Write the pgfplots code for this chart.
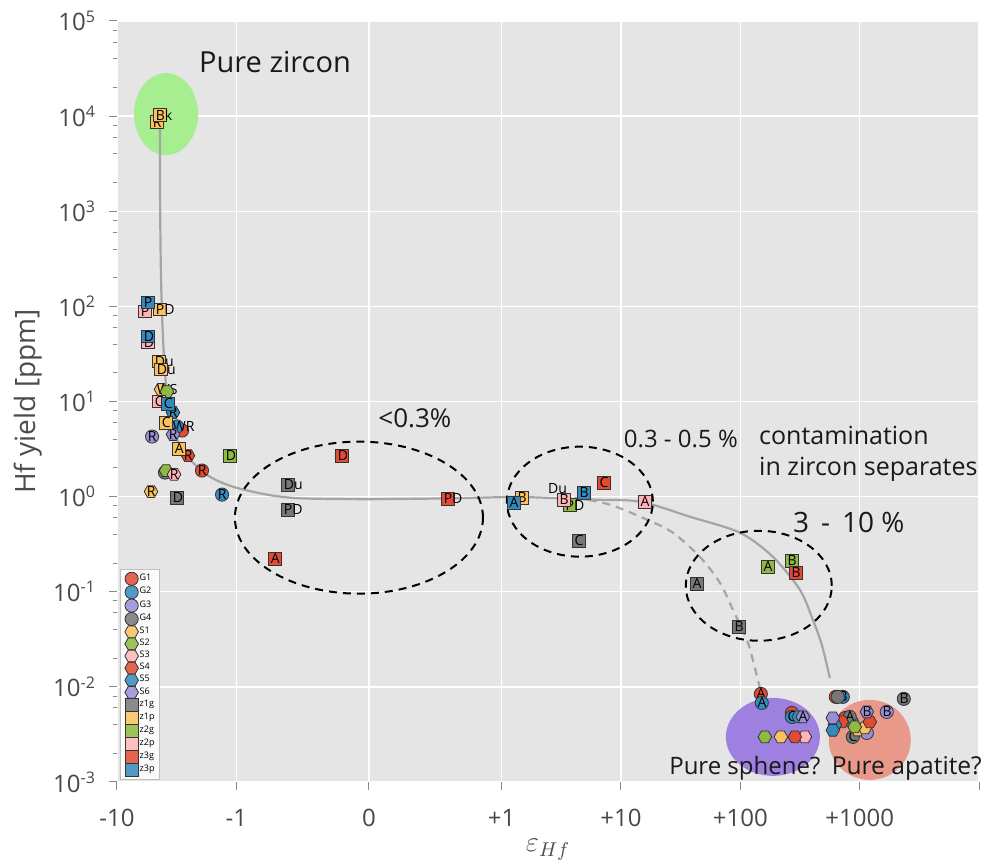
\documentclass[border=0pt]{standalone}
\usepackage{fontspec}
\setmainfont{Open Sans}
\usepackage{pgfplots}
\pgfplotsset{compat=1.18}
\usetikzlibrary{calc}

\definecolor{cR}{HTML}{E24A33}
\definecolor{cB}{HTML}{348ABD}
\definecolor{cP}{HTML}{988ED5}
\definecolor{cG}{HTML}{777777}
\definecolor{cY}{HTML}{FBC15E}
\definecolor{cGr}{HTML}{8EBA42}
\definecolor{cPk}{HTML}{FFB5B8}
\definecolor{bg}{HTML}{E5E5E5}
\definecolor{ellG}{HTML}{A6EE90}
\definecolor{ellP}{HTML}{9D80E0}
\definecolor{ellS}{HTML}{E8998A}
\definecolor{lineg}{HTML}{A5A5A5}
\definecolor{tickc}{HTML}{555555}

\newcommand\labfont{\fontsize{7}{8}\selectfont}
\newcommand\fs[1]{\fontsize{#1}{#1}\selectfont}

\pgfdeclareplotmark{hex}{%
  \pgfpathmoveto{\pgfqpointpolar{0}{\pgfplotmarksize}}%
  \pgfpathlineto{\pgfqpointpolar{60}{\pgfplotmarksize}}%
  \pgfpathlineto{\pgfqpointpolar{120}{\pgfplotmarksize}}%
  \pgfpathlineto{\pgfqpointpolar{180}{\pgfplotmarksize}}%
  \pgfpathlineto{\pgfqpointpolar{240}{\pgfplotmarksize}}%
  \pgfpathlineto{\pgfqpointpolar{300}{\pgfplotmarksize}}%
  \pgfpathclose
  \pgfusepathqfillstroke
}

\pgfplotsset{
  lab/.style={nodes near coords, point meta=explicit symbolic,
    nodes near coords style={anchor=west, xshift=-2.3pt, inner sep=0pt, font=\labfont, text=black}},
  G/.style={lab, only marks, mark=*, mark size=3.3pt, mark options={fill=#1, draw=black!80, line width=0.4pt}},
  S/.style={lab, only marks, mark=hex, mark size=3.4pt, mark options={fill=#1, draw=black!80, line width=0.4pt}},
  Z/.style={lab, only marks, mark=square*, mark size=3.2pt, mark options={fill=#1, draw=black!80, line width=0.4pt}},
}

\begin{document}
\begin{tikzpicture}
\begin{axis}[
  scale only axis, width=431pt, height=380.5pt,
  xmin=-2.111, xmax=5.111, ymode=log, ymin=1e-3, ymax=1e5,
  clip=false,
  axis background/.style={fill=bg},
  axis line style={draw=none},
  grid=major, major grid style={white, line width=0.7pt},
  xtick={-2.111,-1.111,0,1.111,2.111,3.111,4.111,5.111},
  xticklabels={-10,-1,0,+1,+10,+100,+1000,},
  ytick={1e-3,1e-2,1e-1,1,1e1,1e2,1e3,1e4,1e5},
  yticklabels={10\textsuperscript{-3},10\textsuperscript{-2},10\textsuperscript{-1},10\textsuperscript{0},10\textsuperscript{1},10\textsuperscript{2},10\textsuperscript{3},10\textsuperscript{4},10\textsuperscript{5}},
  minor ytick={2e-3,4e-3,6e-3,8e-3,2e-2,4e-2,6e-2,8e-2,0.2,0.4,0.6,0.8,2,4,6,8,20,40,60,80,200,400,600,800,2e3,4e3,6e3,8e3,2e4,4e4,6e4,8e4},
  xtick pos=bottom, ytick pos=left, tick align=outside,
  major tick length=4pt, minor tick length=2pt,
  tick style={color=tickc!70, line width=0.5pt},
  minor grid style={draw=none},
  tick label style={font=\fontsize{12}{14}\selectfont, text=black!72},
  xticklabel style={yshift=-6pt},
  yticklabel style={xshift=-3pt},
  ylabel={Hf yield [ppm]},
  ylabel style={at={(axis description cs:-0.103,0.5)}, anchor=center, font=\fontsize{14}{16}\selectfont, text=black!70},
  xlabel={$\varepsilon_{Hf}$},
  xlabel style={at={(axis description cs:0.5,-0.089)}, anchor=center, font=\fontsize{14}{16}\selectfont, text=black!70},
  legend style={at={(rel axis cs:0.004,0.003)}, anchor=south west, font=\fontsize{4.5}{5}\selectfont,
    draw=black!25, fill=white, fill opacity=0.85, text opacity=1, inner xsep=2pt, inner ysep=1.5pt,
    row sep=0.1pt, nodes={inner sep=0.6pt}},
  legend cell align=left,
  legend image code/.code={\draw[mark repeat=2,mark phase=2,#1] plot coordinates {(0cm,0cm) (0.2cm,0cm) (0.4cm,0cm)};},
]
\coordinate (LL) at (rel axis cs:0,0);
\coordinate (UR) at (rel axis cs:1,1);

% filled ellipses
\fill[ellG] (axis cs:-1.700,10500) ellipse [x radius=16pt, y radius=20.5pt];
\fill[ellP] (axis cs:3.384,0.00298) ellipse [x radius=23.5pt, y radius=19.5pt];
\fill[ellS] (axis cs:4.196,0.00277) ellipse [x radius=20.5pt, y radius=20pt];

% trend lines
\addplot[forget plot, smooth, lineg, line width=1.1pt] table {
-1.750 7660
-1.750 1337
-1.742 192
-1.725 45
-1.700 15.1
-1.650 6.47
-1.608 3.98
-1.499 2.45
-1.332 1.62
-1.139 1.27
-0.854 1.05
-0.578 0.96
0.0 0.94
0.704 0.96
1.265 0.99
1.851 0.93
2.270 0.885
2.688 0.615
3.107 0.418
3.384 0.233
3.610 0.105
3.719 0.0507
3.794 0.0277
3.861 0.01245
};
\addplot[forget plot, smooth, lineg, line width=1.1pt, dash pattern=on 4pt off 3pt] table {
1.725 0.975
2.018 0.824
2.328 0.573
2.546 0.418
2.772 0.233
2.940 0.1245
3.049 0.0647
3.166 0.0313
3.216 0.0192
3.275 0.00975
};

% dashed ellipses
\draw[black, line width=1pt, dash pattern=on 4pt off 3pt] (axis cs:-0.084,0.601) ellipse [x radius=62pt, y radius=38pt];
\draw[black, line width=1pt, dash pattern=on 4pt off 3pt] (axis cs:1.767,0.885) ellipse [x radius=36.5pt, y radius=27.5pt];
\draw[black, line width=1pt, dash pattern=on 4pt off 3pt] (axis cs:3.266,0.1156) ellipse [x radius=36.5pt, y radius=27.5pt];

% annotations
\node[font=\fs{14.5}, text=black!90] at (axis cs:-0.787,37000) {Pure zircon};
\node[font=\fs{13}, text=black!90] at (axis cs:0.385,6.62) {<0.3\%};
\node[font=\fs{12}, text=black!90] at (axis cs:2.613,4.08) {0.3 - 0.5 \%};
\node[font=\fontsize{12.5}{15.5}\selectfont, text=black!90, align=left, anchor=west, inner sep=0pt] at (axis cs:3.266,2.84) {contamination\\in zircon separates};
\node[font=\fs{14}, text=black!90] at (axis cs:4.020,0.532) {3 \,-\, 10 \%};
\node[font=\fs{12}, text=black!90] at (axis cs:3.149,0.0014) {Pure sphene?};
\node[font=\fs{12.3}, text=black!90] at (axis cs:4.506,0.0014) {Pure apatite?};

% G series (circles)
\addplot[G=cR] table[meta=l] {
x y l
-1.566 4.95 {}
-1.399 1.88 R
3.283 0.00843 A
3.543 0.00532 {}
3.911 0.00785 {}
3.99 0.0047 {}
};
\addlegendentry{G1}
\addplot[G=cB] table[meta=l] {
x y l
-1.608 5.46 WR
-1.231 1.05 R
3.291 0.00679 A
3.543 0.00483 C
3.970 0.00785 B
4.045 0.00429 {}
};
\addlegendentry{G2}
\addplot[G=cP] table[meta=l] {
x y l
-1.817 4.28 R
4.338 0.00546 B
4.171 0.00328 {}
};
\addlegendentry{G3}
\addplot[G=cG] table[meta=l] {
x y l
-1.709 1.79 R
3.928 0.00785 {}
4.481 0.00748 B
4.028 0.00483 A
4.054 0.00298 C
};
\addlegendentry{G4}
% S series (hexagons)
\addplot[S=cY] table[meta=l] {
x y l
-1.742 13.4 WS
-1.826 1.13 R
3.451 0.00298 {}
4.095 0.00352 {}
4.154 0.0037 {}
};
\addlegendentry{S1}
\addplot[S=cGr] table[meta=l] {
x y l
-1.692 12.7 {}
-1.700 1.88 {}
3.317 0.00298 {}
4.070 0.00379 {}
};
\addlegendentry{S2}
\addplot[S=cPk] table[meta=l] {
x y l
-1.633 1.71 R
3.652 0.00298 {}
};
\addlegendentry{S3}
\addplot[S=cR] table[meta=l] {
x y l
-1.516 2.7 R
3.568 0.00298 {}
3.961 0.00429 {}
4.196 0.00429 {}
};
\addlegendentry{S4}
\addplot[S=cB] table[meta=l] {
x y l
-1.642 7.66 R
3.903 0.00398 {}
3.886 0.0035 {}
3.600 0.00483 {}
};
\addlegendentry{S5}
\addplot[S=cP] table[meta=l] {
x y l
-1.642 4.5 R
3.635 0.00483 A
3.886 0.00472 {}
4.171 0.00546 B
};
\addlegendentry{S6}
% z series (squares)
\addplot[Z=cG] table[meta=l] {
x y l
-1.608 0.975 D
-0.678 1.34 Du
-0.678 0.73 PD
1.759 0.344 C
2.747 0.121 A
3.099 0.0429 B
};
\addlegendentry{z1g}
\addplot[Z=cY] table[meta=l] {
x y l
-1.776 8650 R
-1.750 10250 Bk
-1.750 93 PD
-1.759 26.4 Du
-1.742 21.7 Du
-1.700 6.0 C
-1.591 3.2 A
1.281 0.975 B
};
\addlegendentry{z1p}
\addplot[Z=cGr] table[meta=l] {
x y l
-1.164 2.7 D
1.683 0.815 PD
3.342 0.183 A
3.543 0.212 B
};
\addlegendentry{z2g}
\addplot[Z=cPk] table[meta=l] {
x y l
-1.876 88.6 P
-1.851 41.8 D
-1.759 10.0 C
1.633 0.93 B
2.312 0.885 A
};
\addlegendentry{z2p}
\addplot[Z=cR] table[meta=l] {
x y l
-0.226 2.7 D
-0.787 0.222 A
0.662 0.953 PD
1.968 1.40 C
3.576 0.158 B
};
\addlegendentry{z3g}
\addplot[Z=cB] table[meta=l] {
x y l
-1.851 110 P
-1.851 48.3 D
-1.683 9.5 C
1.214 0.865 A
1.801 1.10 B
};
\addlegendentry{z3p}
% label without visible marker
\addplot[forget plot, only marks, mark=none, lab] table[meta=l] {
x y l
1.537 1.21 Du
};
\end{axis}
\pgfresetboundingbox
\path[use as bounding box] ($(LL)+(-58.5pt,-41pt)$) rectangle ($(UR)+(2.5pt,10.5pt)$);
\end{tikzpicture}
\end{document}
